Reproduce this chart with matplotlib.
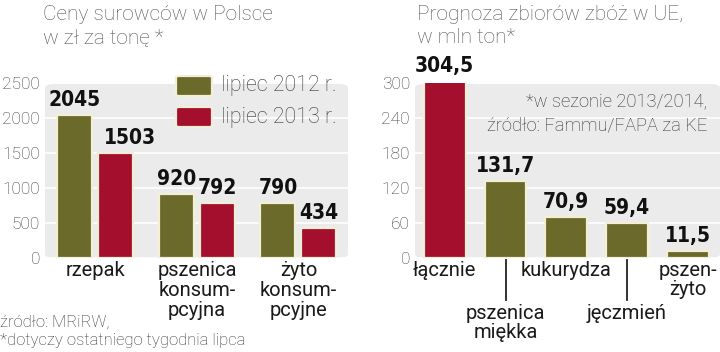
import numpy as np
import matplotlib
matplotlib.use("Agg")
import matplotlib.pyplot as plt
from matplotlib.patches import FancyBboxPatch

# data
ceny_kat = ["rzepak", "pszenica\nkonsum-\npcyjna", "żyto\nkonsum-\npcyjne"]
ceny_2012 = [2045, 920, 790]
ceny_2013 = [1503, 792, 434]
ceny_ticks = [0, 500, 1000, 1500, 2000, 2500]

zb_kat = ["łącznie", "pszenica\nmiękka", "kukurydza", "jęczmień", "pszen-\nżyto"]
zb_val = [304.5, 131.7, 70.9, 59.4, 11.5]
zb_lab = ["304,5", "131,7", "70,9", "59,4", "11,5"]
zb_ticks = [0, 60, 120, 180, 240, 300]

GREEN = "#6b6a2b"
RED = "#a50f2e"
EDGE = "#f3efd6"
BG = "#ebebeb"
W, H = 720, 352

plt.rcParams['font.family'] = ['Roboto', 'DejaVu Sans']

fig = plt.figure(figsize=(7.2, 3.52), dpi=100)

def fx(px):
    return px / W

def fy(py):
    return 1 - py / H

valfont = dict(family=['DejaVu Sans'], weight='bold', stretch='condensed', size=15, color='#111111')
tickfont = dict(size=12.5, weight='light', color='#3a3a3a')
catfont = dict(size=14.5, color='#1a1a1a')


def setup(ax, ticks, ylim, xlim):
    ax.set_xlim(*xlim)
    ax.set_ylim(*ylim)
    ax.patch.set_visible(False)
    for s in ax.spines.values():
        s.set_visible(False)
    bg = FancyBboxPatch((0, 0), 1, 0.995, boxstyle="round,pad=0,rounding_size=0.04",
                        transform=ax.transAxes, facecolor=BG, edgecolor='none',
                        zorder=0, mutation_aspect=0.55)
    ax.add_patch(bg)
    ax.set_yticks(ticks)
    ax.set_yticklabels([str(t) for t in ticks], **tickfont)
    ax.tick_params(axis='y', length=0, pad=3.6)
    ax.tick_params(axis='x', length=0)
    ax.set_axisbelow(True)
    ax.yaxis.grid(True, color='white', lw=1.2)


# ---- left chart
ax1 = fig.add_axes([fx(45), fy(258), fx(303), 175 / H])
setup(ax1, ceny_ticks, (0, 2500), (-0.4975, 2.488))
x = np.arange(len(ceny_kat))
off = 0.202
bw = 0.345
b1 = ax1.bar(x - off, ceny_2012, bw, color=GREEN, edgecolor=EDGE, lw=1.6, zorder=2)
b2 = ax1.bar(x + off, ceny_2013, bw, color=RED, edgecolor=EDGE, lw=1.6, zorder=2)
shift2013 = [10, 0, 0]
for i in range(len(x)):
    ax1.annotate(str(ceny_2012[i]), (x[i] - off, ceny_2012[i]), xytext=(0, 3.5),
                 textcoords='offset points', ha='center', va='bottom',
                 annotation_clip=False, **valfont)
    ax1.annotate(str(ceny_2013[i]), (x[i] + off, ceny_2013[i]), xytext=(shift2013[i], 3.5),
                 textcoords='offset points', ha='center', va='bottom',
                 annotation_clip=False, **valfont)
ax1.set_xticks(x)
ax1.set_xticklabels(ceny_kat, linespacing=1.05, va='top', **catfont)
ax1.tick_params(axis='x', pad=2.5)

# legend
for py, col, lab in [(86, GREEN, "lipiec 2012 r."), (117, RED, "lipiec 2013 r.")]:
    p = FancyBboxPatch((fx(176), fy(py + 10)), fx(36), 20 / H,
                       boxstyle="round,pad=0,rounding_size=0.004",
                       transform=fig.transFigure, facecolor=col, edgecolor=EDGE, lw=1.6)
    fig.add_artist(p)
    fig.text(fx(221), fy(py), lab, ha='left', va='center', size=15.5, weight='light', color='#3a3a3a')

fig.text(fx(43), fy(20), "Ceny surowców w Polsce", ha='left', va='baseline',
         size=15, weight='light', color='#555555')
fig.text(fx(43), fy(43), "w zł za tonę *", ha='left', va='baseline',
         size=15, weight='light', color='#555555')
fig.text(fx(0), fy(322), "źródło: MRiRW,", ha='left', va='center', size=12, weight='light', color='#333333')
fig.text(fx(0), fy(341), "*dotyczy ostatniego tygodnia lipca", ha='left', va='center',
         size=12, weight='light', color='#333333')

# ---- right chart
ax2 = fig.add_axes([fx(415), fy(258), fx(305), 175 / H])
setup(ax2, zb_ticks, (0, 300), (-0.49, 4.53))
xr = np.arange(len(zb_kat))
cols = [RED] + [GREEN] * (len(zb_kat) - 1)
ax2.bar(xr, zb_val, 0.69, color=cols, edgecolor=EDGE, lw=1.6, zorder=2)
for i in range(len(xr)):
    ax2.annotate(zb_lab[i], (xr[i], zb_val[i]), xytext=(0, 3.5),
                 textcoords='offset points', ha='center', va='bottom',
                 annotation_clip=False, **valfont)
ax2.set_xticks(xr)
ax2.set_xticklabels(zb_kat, linespacing=1.0, va='top', **catfont)
ax2.tick_params(axis='x', pad=2.5)
for i, t in enumerate(ax2.xaxis.get_major_ticks()):
    if i % 2 == 1:
        t.set_pad(33)
        ax2.plot([xr[i], xr[i]], [-0.011, -0.24], color='#222222', lw=1.3,
                 transform=ax2.get_xaxis_transform(), clip_on=False)

fig.text(fx(417), fy(20), "Prognoza zbiorów zbóż w UE,", ha='left', va='baseline',
         size=15, weight='light', color='#555555')
fig.text(fx(417), fy(43), "w mln ton*", ha='left', va='baseline',
         size=15, weight='light', color='#555555')
fig.text(fx(707), fy(102), "*w sezonie 2013/2014,", ha='right', va='center',
         size=13.2, weight='light', color='#333333')
fig.text(fx(707), fy(125), "źródło: Fammu/FAPA za KE", ha='right', va='center',
         size=13.2, weight='light', color='#333333')

fig.savefig("out.png", dpi=100)
